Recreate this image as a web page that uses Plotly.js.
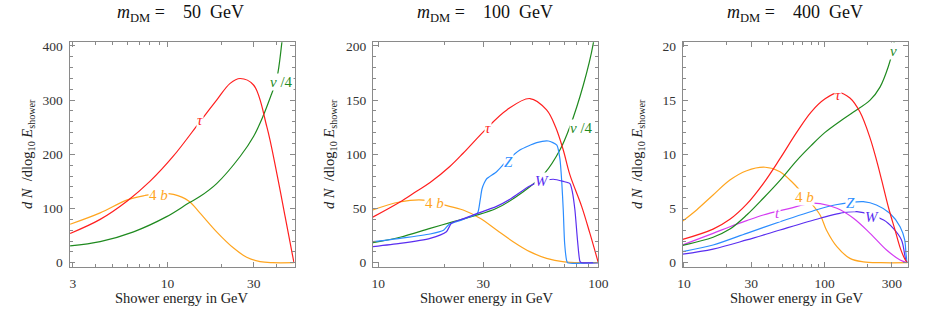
<!DOCTYPE html>
<html>
<head>
<meta charset="utf-8">
<script src="https://cdn.plot.ly/plotly-3.0.1.min.js"></script>
<style>html,body{margin:0;padding:0;background:#fff;}#chart{width:926px;height:314px;}</style>
</head>
<body>
<div id="chart"></div>
<script>
// ---------- Panel 1 : m_DM = 50 GeV ----------
const p1_tau_E = [2.9, 4.25, 6, 8, 10.8, 15.1, 18.7, 22.2, 25.2, 29.9, 35.4, 40.2, 44.7, 50];
const p1_tau   = [54, 80, 114, 150, 197, 260, 300, 331, 340, 328, 251, 165, 85, 0];
const p1_nu_E  = [2.9, 4.25, 6.5, 9.9, 13.1, 15.1, 18.7, 25.2, 29.9, 33.9, 37, 40.2, 42.9, 45];
const p1_nu    = [31, 39, 57, 85, 110, 122, 146, 196, 233, 272, 305, 340, 407, 470];
const p1_b_E   = [2.9, 4.25, 6, 7.5, 9.1, 10.8, 13.1, 15.1, 18.7, 23.2, 27.4, 32.5, 38, 50];
const p1_b     = [71, 92, 116, 124, 128, 126, 114, 92, 57, 27, 10, 2, 0, 0];

// ---------- Panel 2 : m_DM = 100 GeV ----------
const p2_tau_E = [9.43, 12.55, 14.93, 17.2, 21.2, 24.3, 31.1, 38.4, 48.9, 58.2, 64, 69.3, 74.3, 84, 91.6, 100];
const p2_tau   = [42, 56, 66, 74, 89, 101, 124, 141, 151.5, 141, 125, 104, 81, 52, 27, 0];
const p2_nu_E  = [9.43, 12.55, 17.2, 21.2, 27, 34.5, 45.6, 57, 66.9, 74.3, 85.5, 94.8, 100];
const p2_nu    = [18.5, 23.5, 31.7, 37, 43, 50.2, 65.5, 82.5, 104, 125.5, 164, 202, 240];
const p2_Z_E   = [9.43, 12.55, 17.2, 19.8, 21, 24, 27, 28.3, 29, 29.6, 30.3, 31.1, 34.5, 38, 44, 52.5, 59.3, 64.8, 66.9, 68.2, 69.3, 70.3, 71.8, 72.5, 100];
const p2_Z     = [19.4, 22.5, 26.5, 30, 35.5, 39.5, 43.5, 46, 57, 68, 73.5, 77.5, 84, 93, 104, 110.8, 112.3, 108.6, 96, 75, 48.6, 18, 2, 0, 0];
const p2_W_E   = [9.43, 12.55, 17.2, 20.4, 21.5, 24.3, 27, 34.5, 40, 48.8, 55, 62.4, 69.3, 74.3, 76.3, 78.3, 80.5, 82.6, 84, 100];
const p2_W     = [14.8, 17.8, 22.5, 28.6, 36.4, 40.5, 44, 52, 59, 70.8, 75, 77, 75, 73, 65, 48.6, 20, 1, 0, 0];
const p2_b_E   = [9.43, 12.5, 16, 19.8, 24.3, 29, 34.5, 41, 48.8, 58.2, 70, 85, 100];
const p2_b     = [48.6, 56, 57.8, 53.3, 48.6, 41, 30.2, 19.4, 10.2, 4, 0.8, 0, 0];

// ---------- Panel 3 : m_DM = 400 GeV ----------
const p3_tau_E = [9.8, 16.1, 21.2, 27.9, 36.6, 48.1, 63, 80, 100, 125, 151, 178, 210, 234, 254, 285, 316, 345, 372, 387];
const p3_tau   = [2.15, 3.1, 4.0, 5.4, 7.3, 9.6, 12.0, 13.9, 15.1, 15.7, 15.2, 13.9, 11.5, 9.4, 7.6, 5.0, 3.0, 1.3, 0.3, 0];
const p3_nu_E  = [9.8, 16.1, 21.2, 27.9, 36.6, 48.1, 63, 80, 100, 130, 160, 210, 247, 283, 304, 320];
const p3_nu    = [1.6, 2.35, 3.1, 4.4, 5.95, 7.6, 9.4, 10.8, 12.0, 13.1, 13.9, 15.0, 16.2, 18.1, 19.6, 21.5];
const p3_b_E   = [9.8, 12.3, 16.1, 21.2, 27.9, 37.7, 48.1, 59.8, 75, 92.7, 103, 122, 151, 188, 250, 387];
const p3_b     = [3.85, 4.87, 6.25, 7.63, 8.49, 8.81, 8.4, 7.33, 5.9, 4.4, 3.0, 1.48, 0.4, 0.08, 0, 0];
const p3_Z_E   = [9.8, 16.1, 27.9, 48.1, 90.2, 120, 150, 188, 233, 290, 343, 370, 378, 385];
const p3_Z     = [1.02, 1.63, 2.71, 3.78, 4.93, 5.35, 5.55, 5.63, 5.33, 4.56, 3.32, 2.1, 0.8, 0];
const p3_W_E   = [9.8, 16.1, 27.9, 48.1, 92.7, 128, 169, 262, 307, 351, 377, 387];
const p3_W     = [0.8, 1.26, 2.1, 3.02, 4.1, 4.56, 4.71, 3.94, 3.17, 2.1, 0.25, 0];
const p3_t_E   = [9.8, 16.1, 21.2, 27.9, 36.6, 56.6, 78.8, 92.7, 122, 160, 210, 275, 343, 386];
const p3_t     = [1.65, 2.71, 3.32, 3.88, 4.4, 5.02, 5.48, 5.45, 5.02, 4.1, 2.71, 1.17, 0.25, 0];

// tick labels
const p1_xticks = [3, 10, 30];
const p1_xminor = [4, 5, 6, 7, 8, 9, 20, 40, 50];
const p2_xticks = [10, 30, 100];
const p2_xminor = [20, 40, 50, 60, 70, 80, 90];
const p3_xticks = [10, 30, 100, 300];
const p3_xminor = [20, 40, 50, 60, 70, 80, 90, 200, 400];
const titles = ['50', '100', '400'];

const C = {tau:'#ff1f1f', nu:'#1f8a1f', b:'#ffa51f', Z:'#2b8dff', W:'#5a2ef0', t:'#d43cf2'};
const FONT = '"Liberation Serif", "Times New Roman", Times, serif';

function tr(x, y, col, ax, sm) {
  return {x:x, y:y, type:'scatter', mode:'lines', xaxis:'x'+ax, yaxis:'y'+ax,
          line:{color:col, width:1.2, shape:'spline', smoothing: sm===undefined?1:sm}, hoverinfo:'skip'};
}
const data = [
  tr(p1_b_E, p1_b, C.b, ''), tr(p1_nu_E, p1_nu, C.nu, ''), tr(p1_tau_E, p1_tau, C.tau, ''),
  tr(p2_b_E, p2_b, C.b, '2'), tr(p2_nu_E, p2_nu, C.nu, '2'), tr(p2_Z_E, p2_Z, C.Z, '2', 0.6),
  tr(p2_W_E, p2_W, C.W, '2', 0.6), tr(p2_tau_E, p2_tau, C.tau, '2'),
  tr(p3_b_E, p3_b, C.b, '3'), tr(p3_W_E, p3_W, C.W, '3'), tr(p3_Z_E, p3_Z, C.Z, '3', 0.8),
  tr(p3_t_E, p3_t, C.t, '3'), tr(p3_nu_E, p3_nu, C.nu, '3'), tr(p3_tau_E, p3_tau, C.tau, '3')
];

const FR = '#8a8a8a';
function xax(dom, rng, tv, mv, anchor) {
  return {type:'log', domain:dom, range:rng, anchor:anchor, showline:true, linecolor:FR, linewidth:1, mirror:'allticks',
    ticks:'inside', ticklen:5, tickcolor:FR, tickwidth:1, tickmode:'array', tickvals:tv, ticktext:tv.map(String),
    minor:{tickmode:'array', tickvals:mv, ticks:'inside', ticklen:3, tickcolor:FR, tickwidth:1},
    showgrid:false, zeroline:false, tickfont:{family:FONT, size:13.5, color:'#333'}, ticklabelstandoff:4};
}
function yax(rng, dt, mdt, anchor) {
  return {domain:[0.1506, 0.8653], range:rng, anchor:anchor, showline:true, linecolor:FR, linewidth:1, mirror:'allticks',
    ticks:'inside', ticklen:5, tickcolor:FR, tickwidth:1, dtick:dt, tick0:0,
    minor:{dtick:mdt, tick0:0, ticks:'inside', ticklen:3, tickcolor:FR, tickwidth:1},
    showgrid:false, zeroline:false, tickfont:{family:FONT, size:13.5, color:'#333'}, ticklabelstandoff:3};
}

const L = Math.log10;
function lab(txt, E, v, col, ax) {
  return {text:txt, x:L(E), y:v, xref:'x'+ax, yref:'y'+ax, showarrow:false, bgcolor:'#fff', borderpad:0,
          xanchor:'center', yanchor:'middle', font:{family:FONT, size:15, color:col}};
}
const anns = [
  lab('<i>τ</i>', 15.1, 263, C.tau, ''), lab('4 <i>b</i>', 8.9, 125, C.b, ''), lab('<i>ν</i> /4', 42.5, 333, C.nu, ''),
  lab('<i>τ</i>', 31.5, 124, C.tau, '2'), lab('<i>Z</i>', 39, 93, C.Z, '2'), lab('<i>W</i>', 55.3, 75, C.W, '2'),
  lab('4 <i>b</i>', 18.1, 55.4, C.b, '2'), lab('<i>ν</i> /4', 84, 124, C.nu, '2'),
  lab('<i>τ</i>', 125, 15.5, C.tau, '3'), lab('<i>ν</i>', 307, 19.5, C.nu, '3'), lab('4 <i>b</i>', 72.4, 6.1, C.b, '3'),
  lab('<i>t</i>', 46.3, 4.56, C.t, '3'), lab('<i>Z</i>', 153, 5.48, C.Z, '3'), lab('<i>W</i>', 216, 4.25, C.W, '3')
];
const tx = [180, 485, 795];
const xtx = [182, 487, 797];
const ytx = [28, 330, 638];
for (let i = 0; i < 3; i++) {
  anns.push({text:'<i>m</i><sub>DM</sub>\u00a0=\u00a0\u00a0\u00a0\u00a0' + titles[i] + '\u00a0\u00a0GeV', x:tx[i]/926, y:(314-14)/314,
    xref:'paper', yref:'paper', xanchor:'center', yanchor:'middle', showarrow:false, font:{family:FONT, size:18, color:'#111'}});
  anns.push({text:'Shower energy in GeV', x:xtx[i]/926, y:(314-298)/314, xref:'paper', yref:'paper', showarrow:false,
    xanchor:'center', yanchor:'middle', font:{family:FONT, size:14.5, color:'#222'}});
  anns.push({text:'<i>d N</i>\u00a0\u00a0/dlog<sub>10</sub>\u00a0<i>E</i><sub>shower</sub>', x:ytx[i]/926, y:(314-154)/314,
    xref:'paper', yref:'paper', xanchor:'center', yanchor:'middle', showarrow:false, textangle:-90,
    font:{family:FONT, size:14.5, color:'#222'}});
}

const layout = {
  width:926, height:314, margin:{l:0, r:0, t:0, b:0}, showlegend:false,
  font:{family:FONT, size:13, color:'#222'},
  paper_bgcolor:'#fff', plot_bgcolor:'#fff',
  xaxis: xax([69.5/926, 294.5/926], [0.459, 1.702], p1_xticks, p1_xminor, 'y'),
  yaxis: yax([-7.4, 406.8], 100, 20, 'x'),
  xaxis2: xax([373/926, 598.3/926], [0.976, 2.0], p2_xticks, p2_xminor, 'y2'),
  yaxis2: yax([-3.7, 203.4], 50, 10, 'x2'),
  xaxis3: xax([682.7/926, 907.5/926], [0.991, 2.588], p3_xticks, p3_xminor, 'y3'),
  yaxis3: yax([-0.37, 20.34], 5, 1, 'x3'),
  annotations: anns
};
Plotly.newPlot('chart', data, layout, {staticPlot:true, displayModeBar:false});
</script>
</body>
</html>
